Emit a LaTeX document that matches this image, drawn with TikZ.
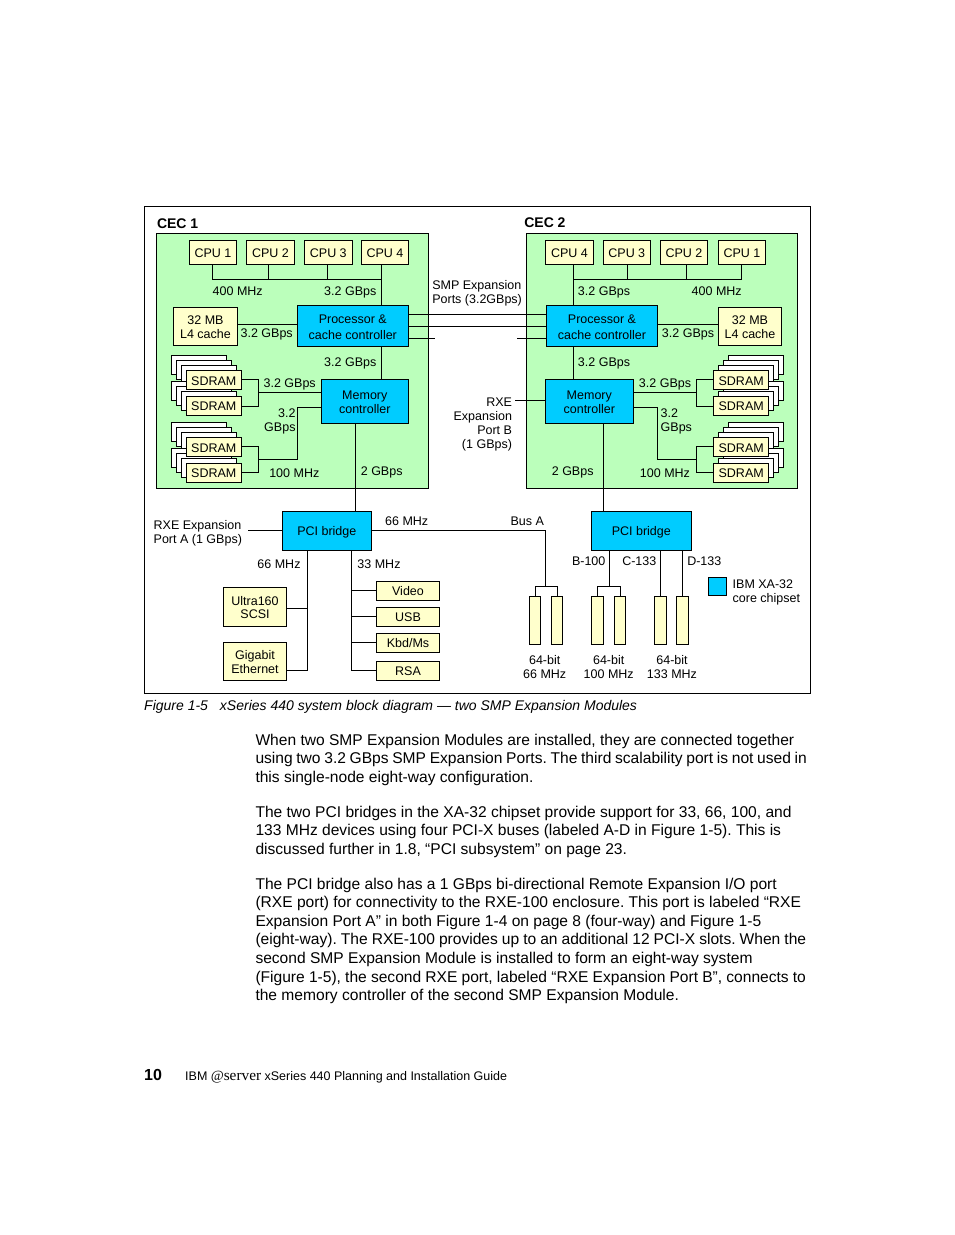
\documentclass[tikz,border=0pt]{standalone}
\usepackage{fontspec}
\setmainfont{Liberation Sans}
\newfontfamily\serverfont{Liberation Serif}
\frenchspacing
\tikzset{
  x=1pt,y=-1pt,
  boxbase/.style={draw=black,line width=0.9pt,inner sep=0pt,outer sep=0pt,align=center,text=black,font=\fontsize{12.5}{13.7}\selectfont},
  ybox/.style={boxbase,fill=ycol},
  bbox/.style={boxbase,fill=bcol},
  cec/.style={draw=black,line width=0.9pt,fill=gcol},
  wire/.style={draw=black,line width=0.9pt},
  back/.style={draw=black,line width=0.9pt,fill=white},
  lbl/.style={inner sep=0pt,outer sep=0pt,text=black,font=\fontsize{12.5}{14}\selectfont},
  lblc/.style={lbl,anchor=base},
  bodytext/.style={inner sep=0pt,outer sep=0pt,anchor=north west,align=left,font=\fontsize{15.58}{18.55}\selectfont},
}
\definecolor{ycol}{HTML}{FFFFCC}
\definecolor{gcol}{HTML}{BBFFBB}
\definecolor{bcol}{HTML}{00CCFF}
\newcommand{\bx}[7]{\node[#6,minimum width={#4-#2},minimum height={#5-#3}] (#1) at ({(#2+#4)/2},{(#3+#5)/2}) {\rule{0pt}{10.5pt}#7};}
\newcommand{\lb}[4]{\node[lblc] (#1) at (#2,#3) {#4};}
% back layers of a memory stack; #1 = x offset sign (-1 left, +1 right), front box corner x1,y1,x2,y2
\newcommand{\stk}[5]{\foreach \k in {3,2,1}{\draw[back] ({#2+#1*\k*5},{#3-\k*5}) rectangle ({#4+#1*\k*5},{#5-\k*5});}}
\begin{document}
\begin{tikzpicture}
\useasboundingbox (0,0) rectangle (954,1235);
\fill[white] (0,0) rectangle (954,1235);
% frame
\draw[wire,fill=white] (144.5,206.5) rectangle (810.5,693.5);
% CEC panels
\draw[cec] (156.7,233.3) rectangle (428.5,488.3);
\draw[cec] (526.3,233.3) rectangle (797.7,488.3);
\node[lbl,anchor=base west,font=\fontsize{14}{16}\selectfont\bfseries] (cec1) at (157,228.5) {CEC 1};
\node[lbl,anchor=base west,font=\fontsize{14}{16}\selectfont\bfseries] (cec2) at (524.3,227.5) {CEC 2};

% ---- CEC 1 boxes
\bx{c1a}{189.3}{240.7}{236.7}{264.3}{ybox}{CPU 1}
\bx{c1b}{246.3}{240.7}{294.7}{264.3}{ybox}{CPU 2}
\bx{c1c}{304.3}{240.7}{352.3}{264.3}{ybox}{CPU 3}
\bx{c1d}{361.7}{240.7}{408.3}{264.3}{ybox}{CPU 4}
\bx{proc1}{297.3}{305.3}{408.3}{346.3}{bbox,font=\fontsize{12.5}{16}\selectfont}{\rule{0pt}{12.5pt}Processor \&\\cache controller}
\bx{lfour1}{173.3}{307.3}{237.7}{345.3}{ybox}{32 MB\\L4 cache}
\bx{mem1}{321.3}{379.3}{408.3}{423.3}{bbox,font=\fontsize{12.5}{13.2}\selectfont}{Memory\\controller}
\stk{-1}{186.3}{370.3}{241.3}{389.7}
\stk{-1}{186.3}{396.3}{241.3}{415.3}
\bx{sd1a}{186.3}{370.3}{241.3}{389.7}{ybox}{SDRAM}
\bx{sd1b}{186.3}{396.3}{241.3}{415.3}{ybox}{SDRAM}
\stk{-1}{186.3}{437.7}{241.3}{456.7}
\stk{-1}{186.3}{463.3}{241.3}{482.3}
\bx{sd1c}{186.3}{437.7}{241.3}{456.7}{ybox}{SDRAM}
\bx{sd1d}{186.3}{463.3}{241.3}{482.3}{ybox}{SDRAM}

% ---- CEC 2 boxes
\bx{c2d}{545.3}{240.7}{593.7}{264.3}{ybox}{CPU 4}
\bx{c2c}{603.3}{240.7}{650.3}{264.3}{ybox}{CPU 3}
\bx{c2b}{660.3}{240.7}{707.7}{264.3}{ybox}{CPU 2}
\bx{c2a}{718.3}{240.7}{765.7}{264.3}{ybox}{CPU 1}
\bx{proc2}{546.3}{305.3}{657.7}{346.3}{bbox,font=\fontsize{12.5}{16}\selectfont}{\rule{0pt}{12.5pt}Processor \&\\cache controller}
\bx{lfour2}{718.3}{307.3}{781.7}{345.3}{ybox}{32 MB\\L4 cache}
\bx{mem2}{545.3}{379.3}{633.3}{423.3}{bbox,font=\fontsize{12.5}{13.2}\selectfont}{Memory\\controller}
\stk{1}{713.7}{370.3}{768.7}{389.7}
\stk{1}{713.7}{396.3}{768.7}{415.3}
\bx{sd2a}{713.7}{370.3}{768.7}{389.7}{ybox}{SDRAM}
\bx{sd2b}{713.7}{396.3}{768.7}{415.3}{ybox}{SDRAM}
\stk{1}{713.7}{437.7}{768.7}{456.7}
\stk{1}{713.7}{463.3}{768.7}{482.3}
\bx{sd2c}{713.7}{437.7}{768.7}{456.7}{ybox}{SDRAM}
\bx{sd2d}{713.7}{463.3}{768.7}{482.3}{ybox}{SDRAM}

% ---- bridges
\bx{pci1}{282.3}{511.3}{371.3}{550.3}{bbox}{\rule{0pt}{12.5pt}PCI bridge}
\bx{pci2}{591.3}{511.3}{691.3}{550.3}{bbox}{\rule{0pt}{12.5pt}PCI bridge}
% ---- IO
\bx{scsi}{223.3}{587.3}{286.7}{626.3}{ybox}{Ultra160\\SCSI}
\bx{giga}{223.3}{642.3}{286.7}{680.3}{ybox}{Gigabit\\Ethernet}
\bx{video}{376.3}{581.3}{439.7}{600.3}{ybox}{Video}
\bx{usb}{376.3}{607.3}{439.7}{626.3}{ybox}{USB}
\bx{kbd}{376.3}{633.3}{439.7}{652.3}{ybox}{Kbd/Ms}
\bx{rsa}{376.3}{661.3}{439.7}{680.3}{ybox}{RSA}
% ---- slots
\bx{sa}{529.3}{596.3}{540.7}{644.7}{ybox}{}
\bx{sb}{551.3}{596.3}{562.7}{644.7}{ybox}{}
\bx{sc}{591.3}{596.3}{603.7}{644.7}{ybox}{}
\bx{sd}{614.3}{596.3}{625.7}{644.7}{ybox}{}
\bx{se}{654.3}{596.3}{666.7}{644.7}{ybox}{}
\bx{sf}{676.3}{596.3}{688.7}{644.7}{ybox}{}
% legend
\bx{legend}{708.3}{577.3}{726.7}{595.7}{bbox}{}

% ---- connector coordinates
\coordinate (bAa) at (212.3,279.3);
\coordinate (bAb) at (268.3,279.3);
\coordinate (bAc) at (327.3,279.3);
\coordinate (bAd) at (381.3,279.3);
\coordinate (bBd) at (573.7,279.3);
\coordinate (bBc) at (627.3,279.3);
\coordinate (bBb) at (686.3,279.3);
\coordinate (bBa) at (741.7,279.3);
\coordinate (l1) at (237.7,324.3);
\coordinate (l2) at (718.3,324.3);
\coordinate (smpa) at (408.3,314.3);
\coordinate (smpb) at (408.3,326.7);
\coordinate (smpc) at (408.3,338);
\coordinate (smpcL) at (435,338);
\coordinate (smpcR) at (517,338);
\coordinate (mA) at (258.7,392.3);
\coordinate (mB) at (258.7,459.3);
\coordinate (mBt) at (297.3,459.3);
\coordinate (mC) at (696.7,392.3);
\coordinate (mD) at (696.7,459.3);
\coordinate (mDt) at (657.7,459.3);
\coordinate (dA) at (355.3,423.3);
\coordinate (dB) at (603.3,423.3);
\coordinate (rxeb) at (515,400.7);
\coordinate (rxea) at (248,530.3);
\coordinate (busA) at (545.3,530.3);
\coordinate (fA) at (545.3,586.3);
\coordinate (fB) at (609.7,586.3);
\coordinate (vL) at (307.3,670.3);
\coordinate (vR) at (351.7,670.3);
\coordinate (vLt) at (307.3,608.3);

% ---- connectors CEC 1
\draw[wire] (c1a.south -| bAa) -- (bAa) -- (bAd);
\draw[wire] (c1b.south -| bAb) -- (bAb);
\draw[wire] (c1c.south -| bAc) -- (bAc);
\draw[wire] (c1d.south -| bAd) -- (proc1.north -| bAd);
\draw[wire] (l1) -- (proc1.west |- l1);
\draw[wire] (proc1.south -| bAd) -- (mem1.north -| bAd);
\draw[wire] (smpa) -- (proc2.west |- smpa);
\draw[wire] (smpb) -- (proc2.west |- smpb);
\draw[wire] (smpc) -- (smpcL);
\draw[wire] (smpcR) -- (proc2.west |- smpcR);
\draw[wire] (sd1a.east |- 0,379.7) -- (258.7,379.7) -- (258.7,406.3) -- (sd1b.east |- 0,406.3);
\draw[wire] (mA) -- (mem1.west |- mA);
\draw[wire] (sd1c.east |- 0,446.7) -- (258.7,446.7) -- (258.7,472.3) -- (sd1d.east |- 0,472.3);
\draw[wire] (mB) -- (mBt) -- (297.3,407.3) -- (mem1.west |- 0,407.3);
\draw[wire] (mem1.south -| dA) -- (pci1.north -| dA);
% ---- connectors CEC 2
\draw[wire] (c2a.south -| bBa) -- (bBa) -- (bBd);
\draw[wire] (c2b.south -| bBb) -- (bBb);
\draw[wire] (c2c.south -| bBc) -- (bBc);
\draw[wire] (c2d.south -| bBd) -- (proc2.north -| bBd);
\draw[wire] (l2) -- (proc2.east |- l2);
\draw[wire] (proc2.south -| bBd) -- (mem2.north -| bBd);
\draw[wire] (sd2a.west |- 0,379.7) -- (696.7,379.7) -- (696.7,406.3) -- (sd2b.west |- 0,406.3);
\draw[wire] (mC) -- (mem2.east |- mC);
\draw[wire] (sd2c.west |- 0,446.7) -- (696.7,446.7) -- (696.7,472.3) -- (sd2d.west |- 0,472.3);
\draw[wire] (mD) -- (mDt) -- (657.7,407.3) -- (mem2.east |- 0,407.3);
\draw[wire] (mem2.south -| dB) -- (pci2.north -| dB);
\draw[wire] (rxeb) -- (mem2.west |- rxeb);
% ---- connectors lower
\draw[wire] (rxea) -- (pci1.west |- rxea);
\draw[wire] (pci1.east |- busA) -- (busA) -- (fA);
\draw[wire] (sa.north) |- (fA) -| (sb.north);
\draw[wire] (pci2.south -| fB) -- (fB);
\draw[wire] (sc.north) |- (fB) -| (sd.north);
\draw[wire] (pci2.south -| se.north) -- (se.north);
\draw[wire] (pci2.south -| sf.north) -- (sf.north);
\draw[wire] (pci1.south -| vL) -- (vL) -- (giga.east |- vL);
\draw[wire] (vLt) -- (scsi.east |- vLt);
\draw[wire] (pci1.south -| vR) -- (vR) -- (rsa.west |- vR);
\draw[wire] (vR |- video.west) -- (video.west);
\draw[wire] (vR |- usb.west) -- (usb.west);
\draw[wire] (vR |- kbd.west) -- (kbd.west);

% ---- labels CEC 1
\lb{t1}{237.7}{295}{400 MHz}
\lb{t2}{350.3}{295}{3.2 GBps}
\lb{t3}{266.7}{337.7}{3.2 GBps}
\lb{t4}{350.3}{366}{3.2 GBps}
\lb{t5}{289.7}{387.7}{3.2 GBps}
\node[lbl,anchor=east,align=right] (t6) at (295.5,421.5) {3.2\\GBps};
\lb{t7}{294.3}{477.7}{100 MHz}
\lb{t8}{381.7}{475}{2 GBps}
\node[lbl,anchor=west,align=left] (t9) at (432.3,293.5) {SMP Expansion\\Ports (3.2GBps)};
% ---- labels CEC 2
\lb{u1}{604}{295}{3.2 GBps}
\lb{u2}{716.7}{295}{400 MHz}
\lb{u3}{688}{337.7}{3.2 GBps}
\lb{u4}{604}{366}{3.2 GBps}
\lb{u5}{665}{387.7}{3.2 GBps}
\node[lbl,anchor=west,align=left] (u6) at (660.7,421.5) {3.2\\GBps};
\lb{u7}{665}{477.7}{100 MHz}
\lb{u8}{572.7}{475}{2 GBps}
\node[lbl,anchor=east,align=right] (u9) at (512,424) {RXE\\Expansion\\Port B\\(1 GBps)};
% ---- labels lower
\node[lbl,anchor=west,align=left] (v1) at (153.7,533.5) {RXE Expansion\\Port A (1 GBps)};
\lb{v2}{406.7}{525}{66 MHz}
\lb{v3}{279}{568}{66 MHz}
\lb{v4}{379}{568}{33 MHz}
\lb{v5}{527.3}{525}{Bus A}
\lb{v6}{588.7}{565.5}{B-100}
\lb{v7}{639.3}{565.5}{C-133}
\lb{v8}{704.3}{565.5}{D-133}
\node[lbl,anchor=west,align=left] (v9) at (732.7,592) {IBM XA-32\\core chipset};
\node[lbl,align=center] (w1) at (544.7,667) {64-bit\\66 MHz};
\node[lbl,align=center] (w2) at (608.7,667) {64-bit\\100 MHz};
\node[lbl,align=center] (w3) at (672,667) {64-bit\\133 MHz};

% ---- caption
\node[inner sep=0pt,anchor=base west,font=\fontsize{14}{16}\selectfont\itshape] (cap) at (144,710) {Figure 1-5\hspace{12pt}xSeries 440 system block diagram — two SMP Expansion Modules};

% ---- body
\node[bodytext] (p1) at (255.5,734) {When two SMP Expansion Modules are installed, they are connected together\\{\spaceskip=3.69pt using two 3.2 GBps SMP Expansion Ports. The third scalability port is not used in}\\this single-node eight-way configuration.};
\node[bodytext] (p2) at (255.5,806) {The two PCI bridges in the XA-32 chipset provide support for 33, 66, 100, and\\133 MHz devices using four PCI-X buses (labeled A-D in Figure 1-5). This is\\discussed further in 1.8, “PCI subsystem” on page 23.};
\node[bodytext] (p3) at (255.5,878) {The PCI bridge also has a 1 GBps bi-directional Remote Expansion I/O port\\(RXE port) for connectivity to the RXE-100 enclosure. This port is labeled “RXE\\Expansion Port A” in both Figure 1-4 on page 8 (four-way) and Figure 1-5\\{\spaceskip=4.03pt (eight-way). The RXE-100 provides up to an additional 12 PCI-X slots. When the}\\second SMP Expansion Module is installed to form an eight-way system\\{\spaceskip=4.16pt (Figure 1-5), the second RXE port, labeled “RXE Expansion Port B”, connects to}\\the memory controller of the second SMP Expansion Module.};

% ---- footer
\node[inner sep=0pt,anchor=base west,font=\fontsize{16}{18}\selectfont\bfseries] (pg) at (144,1080) {10};
\node[inner sep=0pt,anchor=base west,font=\fontsize{12.5}{14}\selectfont] (ft) at (185,1080) {IBM {\serverfont\itshape\fontsize{14}{14}\selectfont @}{\serverfont\fontsize{15.3}{15.3}\selectfont server} xSeries 440 Planning and Installation Guide};
\end{tikzpicture}
\end{document}
